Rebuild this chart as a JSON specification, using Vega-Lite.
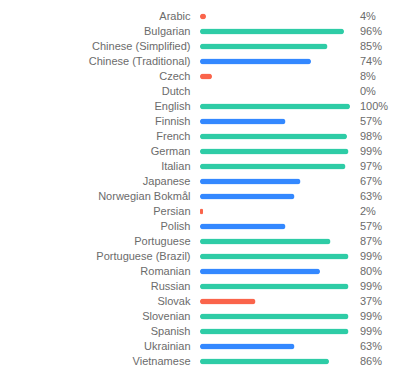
{
  "$schema": "https://vega.github.io/schema/vega-lite/v6.json",
  "autosize": "none",
  "width": 150,
  "height": 360,
  "padding": {"left": 200, "top": 9, "right": 50, "bottom": 6},
  "background": "white",
  "config": {"view": {"stroke": null}, "font": "Liberation Sans"},
  "data": {"values": [
    {"lang": "Arabic", "value": 0.04},
    {"lang": "Bulgarian", "value": 0.96},
    {"lang": "Chinese (Simplified)", "value": 0.85},
    {"lang": "Chinese (Traditional)", "value": 0.74},
    {"lang": "Czech", "value": 0.08},
    {"lang": "Dutch", "value": 0.0},
    {"lang": "English", "value": 1.0},
    {"lang": "Finnish", "value": 0.57},
    {"lang": "French", "value": 0.98},
    {"lang": "German", "value": 0.99},
    {"lang": "Italian", "value": 0.97},
    {"lang": "Japanese", "value": 0.67},
    {"lang": "Norwegian Bokmål", "value": 0.63},
    {"lang": "Persian", "value": 0.02},
    {"lang": "Polish", "value": 0.57},
    {"lang": "Portuguese", "value": 0.87},
    {"lang": "Portuguese (Brazil)", "value": 0.99},
    {"lang": "Romanian", "value": 0.80},
    {"lang": "Russian", "value": 0.99},
    {"lang": "Slovak", "value": 0.37},
    {"lang": "Slovenian", "value": 0.99},
    {"lang": "Spanish", "value": 0.99},
    {"lang": "Ukrainian", "value": 0.63},
    {"lang": "Vietnamese", "value": 0.86}
  ]},
  "encoding": {
    "y": {
      "field": "lang", "type": "nominal", "sort": null,
      "scale": {"paddingInner": 0, "paddingOuter": 0},
      "axis": {"title": null, "ticks": false, "domain": false, "labelPadding": 10,
               "labelFontSize": 11, "labelColor": "#6b6b6b", "labelFont": "Liberation Sans"}
    }
  },
  "layer": [
    {
      "mark": {"type": "bar", "size": 6, "cornerRadius": 3},
      "encoding": {
        "x": {"field": "value", "type": "quantitative", "scale": {"domain": [0, 1]}, "axis": null},
        "color": {
          "field": "value", "type": "quantitative",
          "scale": {"type": "threshold", "domain": [0.5, 0.85], "range": ["#fa644b", "#3388ff", "#2ecca6"]},
          "legend": null
        }
      }
    },
    {
      "mark": {"type": "text", "align": "left", "dx": 10, "fontSize": 11, "color": "#6b6b6b", "font": "Liberation Sans"},
      "encoding": {
        "x": {"datum": 1, "type": "quantitative"},
        "text": {"field": "value", "type": "quantitative", "format": ".0%"}
      }
    }
  ]
}
